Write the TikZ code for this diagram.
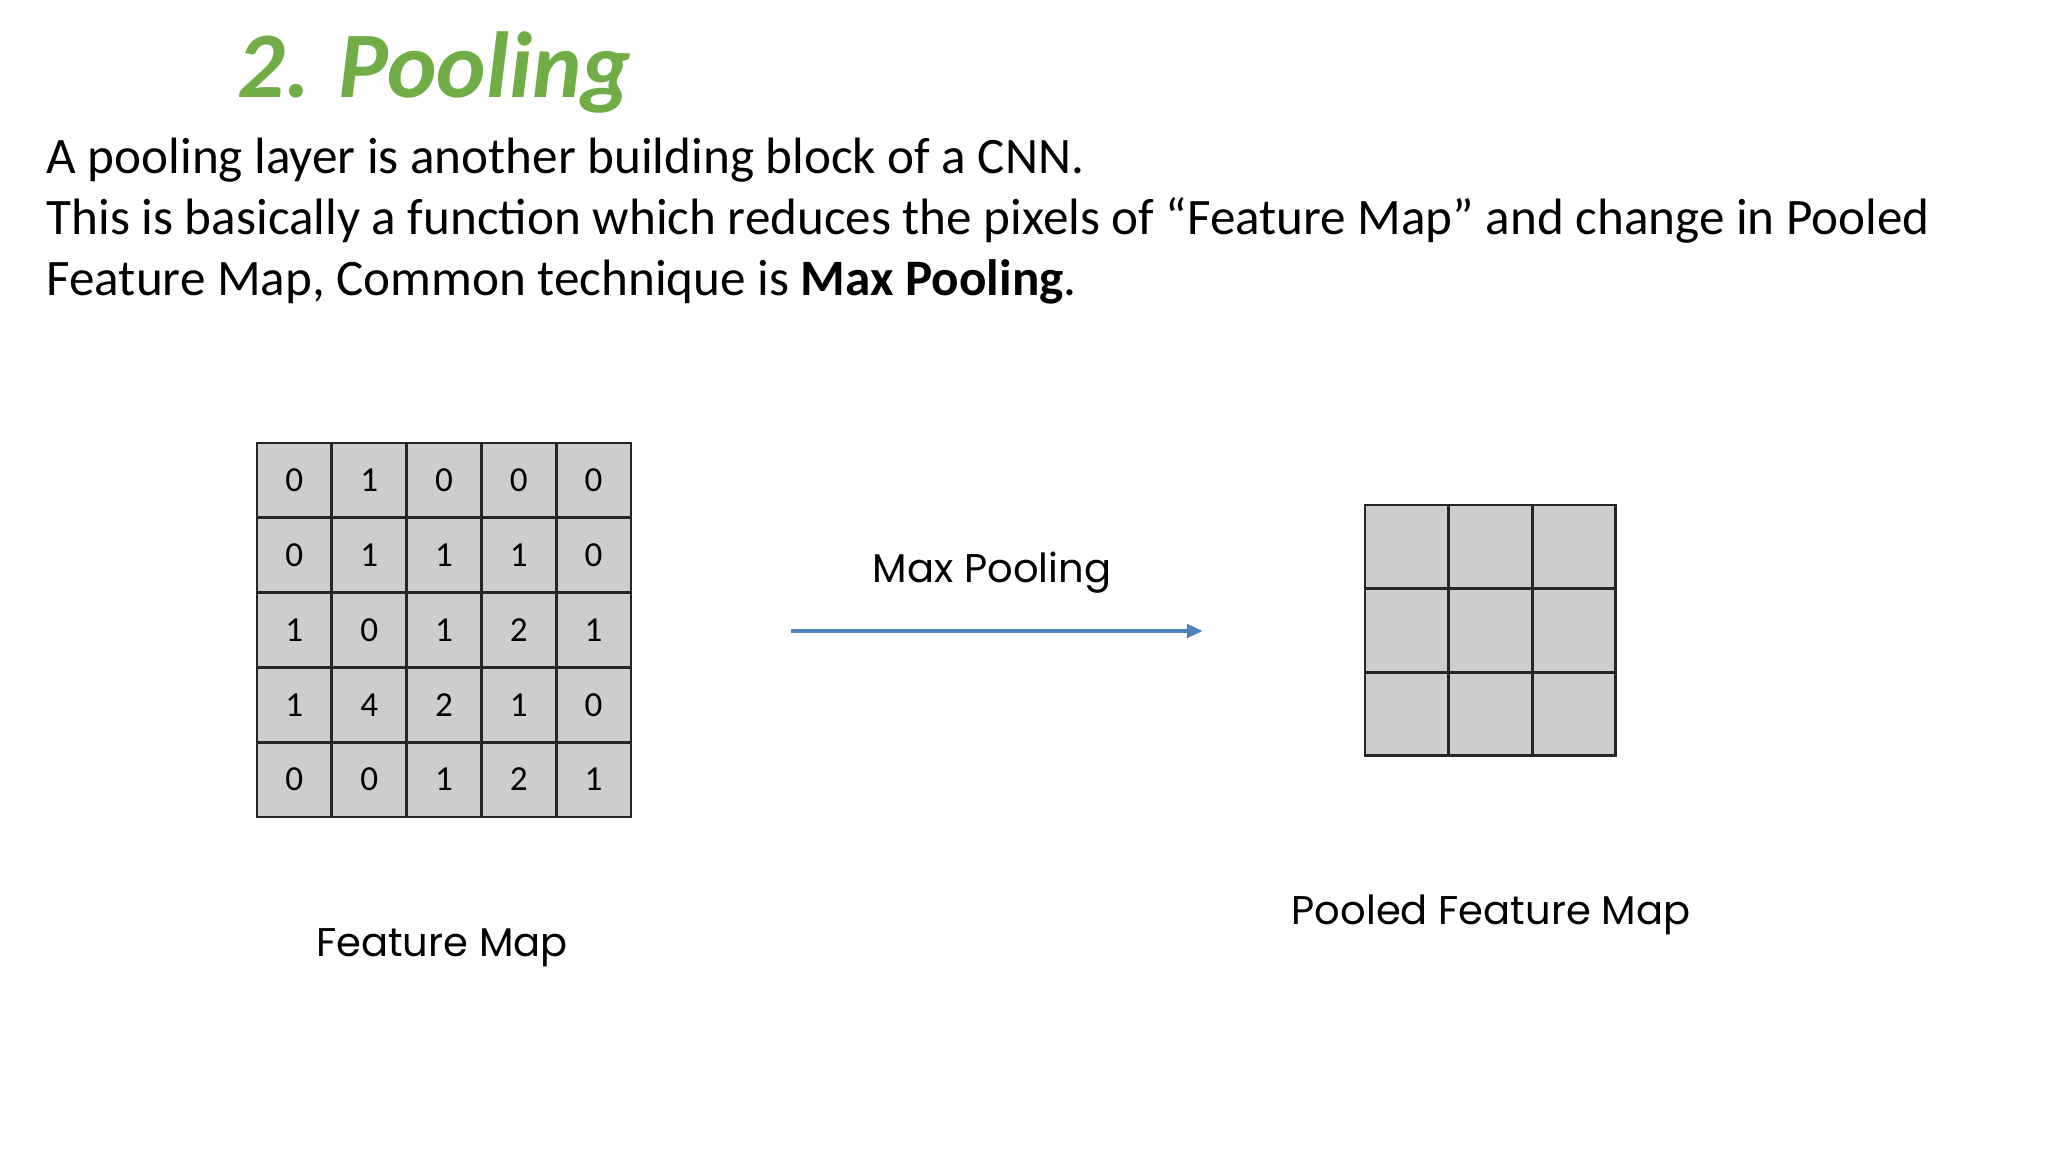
\documentclass[tikz,border=0pt]{standalone}
\usepackage{fontspec}
\setmainfont{Carlito}
\newfontfamily\labelfont{Poppins}
\usetikzlibrary{arrows.meta,positioning}
\definecolor{titlegreen}{HTML}{70AD47}
\definecolor{arrowblue}{HTML}{4F81BD}
\definecolor{cellgray}{HTML}{CDCDCF}

\begin{document}
\begin{tikzpicture}[
    every node/.style={inner sep=0pt},
    heading/.style={font=\fontsize{26.7}{32}\selectfont\bfseries\itshape, text=titlegreen, anchor=base west},
    body/.style={font=\fontsize{14.55}{17}\selectfont, anchor=base west},
    cell/.style={draw=black!85, line width=0.8pt, fill=cellgray, minimum size=0.748cm, font=\fontsize{10}{12}\selectfont},
    pcell/.style={cell, minimum size=0.836cm},
    caption/.style={font=\labelfont\fontsize{11.4}{13}\selectfont, anchor=base},
    arr/.style={-{Triangle[length=4.6pt,width=3.8pt]}, line width=1.1pt, arrowblue}
  ]
    \useasboundingbox (0,0) rectangle (20.48,11.52);
    \node[heading] (title) at (2.37,10.54) {2. Pooling};
    \node[body] (intro1) at (0.46,9.78) {A pooling layer is another building block of a CNN.};
    \node[body] (intro2) at (0.46,9.17) {This is basically a function which reduces the pixels of “Feature Map” and change in Pooled};
    \node[body] (intro3) at (0.46,8.56) {Feature Map, Common technique is \textbf{Max Pooling}.};
    % feature map, 5x5
    \foreach \row [count=\r] in {{0,1,0,0,0},{0,1,1,1,0},{1,0,1,2,1},{1,4,2,1,0},{0,0,1,2,1}}
      \foreach \v [count=\c] in \row
        \node[cell] (f-\r-\c) at ({2.57+0.748*(\c-0.5)},{7.09-0.748*(\r-0.5)}) {\v};
    % pooled map, 3x3
    \foreach \r in {1,2,3}
      \foreach \c in {1,2,3}
        \node[pcell] (p-\r-\c) at ({13.65+0.836*(\c-0.5)},{6.47-0.836*(\r-0.5)}) {};
    \coordinate (mp-start) at (7.91,5.21);
    \coordinate (mp-end) at (12.03,5.21);
    \draw[arr] (mp-start) -- (mp-end);
    \node[caption] (mp) at (9.92,5.69) {Max Pooling};
    \node[caption] (fm) at (4.42,1.95) {Feature Map};
    \node[caption] (pfm) at (14.91,2.27) {Pooled Feature Map};
  \end{tikzpicture}
\end{document}
